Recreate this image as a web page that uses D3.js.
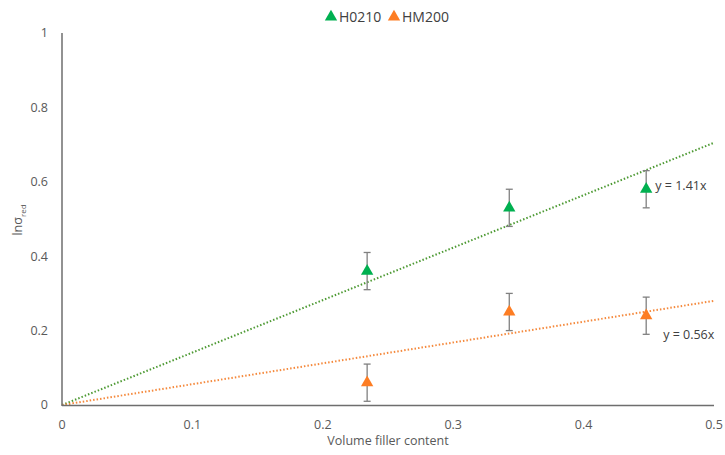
<!DOCTYPE html>
<meta charset="utf-8">
<style>
body { margin: 0; background: #fff; }
svg text { font-family: "Open Sans", sans-serif; fill: #595959; }
</style>
<svg id="chart" width="725" height="455"></svg>
<script src="https://cdnjs.cloudflare.com/ajax/libs/d3/7.8.5/d3.min.js"></script>
<script>

var xTicks = [0, 0.1, 0.2, 0.3, 0.4, 0.5],
    yTicks = [0, 0.2, 0.4, 0.6, 0.8, 1];

var fillerContent = [0.234, 0.343, 0.448];
var h0210 = [0.36, 0.53, 0.58],
    h0210Err = [0.05, 0.05, 0.05];
var hm200 = [0.06, 0.25, 0.24],
    hm200Err = [0.05, 0.05, 0.05];
var slopes = [1.41, 0.56];
var seriesNames = ["H0210", "HM200"];
var eqLabels = ["y = 1.41x", "y = 0.56x"];

var x = d3.scaleLinear().domain([0, 0.5]).range([62, 714]);
var y = d3.scaleLinear().domain([0, 1]).range([405, 33]);

var svg = d3.select("#chart");

var series = [
  { name: seriesNames[0], vals: h0210, err: h0210Err, slope: slopes[0], eq: eqLabels[0],
    marker: "#00b050", line: "#4e9a34", eqPos: [0.455, 0.59] },
  { name: seriesNames[1], vals: hm200, err: hm200Err, slope: slopes[1], eq: eqLabels[1],
    marker: "#fd7d23", line: "#f5893c", eqPos: [0.461, 0.19] }
];

// axis tick labels
svg.append("g").selectAll("text")
    .data(yTicks).enter().append("text")
    .attr("x", 48).attr("y", function(d) { return y(d); })
    .attr("dy", "0.35em")
    .attr("text-anchor", "end")
    .style("font-size", "12.5px")
    .text(function(d) { return d; });

svg.append("g").selectAll("text")
    .data(xTicks).enter().append("text")
    .attr("x", function(d) { return x(d); }).attr("y", 425)
    .attr("dy", "0.35em")
    .attr("text-anchor", "middle")
    .style("font-size", "12.5px")
    .text(function(d) { return d; });

// trendlines
series.forEach(function(s) {
  svg.append("line")
      .attr("x1", x(0)).attr("y1", y(0))
      .attr("x2", x(0.5)).attr("y2", y(s.slope * 0.5))
      .attr("stroke", s.line)
      .attr("stroke-width", 2)
      .attr("stroke-dasharray", "1.5,2");
});

// axes lines
svg.append("line")
    .attr("x1", x(0)).attr("x2", x(0)).attr("y1", y(1)).attr("y2", y(0) + 1)
    .attr("stroke", "#6e6e6e").attr("stroke-width", 1.5);
svg.append("line")
    .attr("x1", x(0)).attr("x2", x(0.5)).attr("y1", y(0) + 0.5).attr("y2", y(0) + 0.5)
    .attr("stroke", "#6e6e6e").attr("stroke-width", 1.5);

var tri = d3.symbol().type(d3.symbolTriangle).size(66);

series.forEach(function(s) {
  var g = svg.append("g");
  var pts = s.vals.map(function(v, i) { return { x: fillerContent[i], y: v, e: s.err[i] }; });

  var eb = g.selectAll("g.eb").data(pts).enter().append("g")
      .attr("stroke", "#808080").attr("stroke-width", 1.3);
  eb.append("line")
      .attr("x1", function(d) { return x(d.x); }).attr("x2", function(d) { return x(d.x); })
      .attr("y1", function(d) { return y(d.y - d.e); }).attr("y2", function(d) { return y(d.y + d.e); });
  eb.append("line")
      .attr("x1", function(d) { return x(d.x) - 3.5; }).attr("x2", function(d) { return x(d.x) + 3.5; })
      .attr("y1", function(d) { return y(d.y + d.e); }).attr("y2", function(d) { return y(d.y + d.e); });
  eb.append("line")
      .attr("x1", function(d) { return x(d.x) - 3.5; }).attr("x2", function(d) { return x(d.x) + 3.5; })
      .attr("y1", function(d) { return y(d.y - d.e); }).attr("y2", function(d) { return y(d.y - d.e); });

  g.selectAll("path").data(pts).enter().append("path")
      .attr("d", tri)
      .attr("transform", function(d) { return "translate(" + x(d.x) + "," + y(d.y) + ")"; })
      .attr("fill", s.marker);

  svg.append("text")
      .attr("x", x(s.eqPos[0])).attr("y", y(s.eqPos[1]))
      .attr("dy", "0.35em")
      .style("font-size", "12.5px")
      .style("fill", "#404040")
      .text(s.eq);
});

// legend
var legend = svg.append("g").attr("transform", "translate(331,17)");
var lx = [0, 63];
series.forEach(function(s, i) {
  legend.append("path")
      .attr("d", tri)
      .attr("transform", "translate(" + lx[i] + ",0)")
      .attr("fill", s.marker);
  legend.append("text")
      .attr("x", lx[i] + 8).attr("y", 0)
      .attr("dy", "0.35em")
      .style("font-size", "14px")
      .style("fill", "#404040")
      .text(s.name);
});

// axis titles
svg.append("text")
    .attr("x", 388).attr("y", 441)
    .attr("dy", "0.35em")
    .attr("text-anchor", "middle")
    .style("font-size", "12.5px")
    .text("Volume filler content");

var yl = svg.append("text")
    .attr("transform", "translate(22,220) rotate(-90)")
    .attr("text-anchor", "middle")
    .style("font-size", "12.5px");
yl.append("tspan").text("lnσ");
yl.append("tspan").attr("dy", 4).style("font-size", "8px").text("red");

</script>
